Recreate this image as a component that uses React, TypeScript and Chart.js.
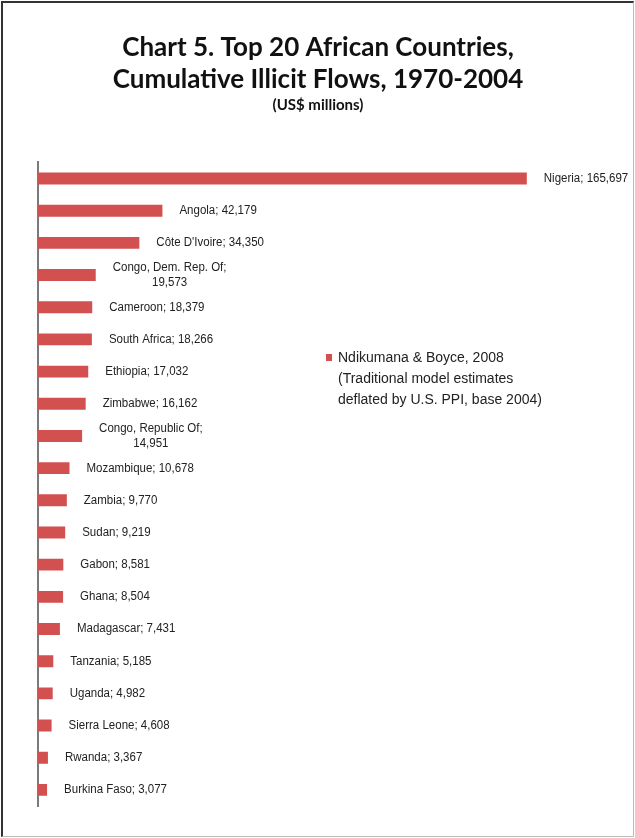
import React, { useEffect, useRef } from "react";
import { Chart, registerables } from "chart.js";

Chart.register(...registerables);

const countries: string[] = [
  "Nigeria",
  "Angola",
  "Côte D'Ivoire",
  "Congo, Dem. Rep. Of",
  "Cameroon",
  "South Africa",
  "Ethiopia",
  "Zimbabwe",
  "Congo, Republic Of",
  "Mozambique",
  "Zambia",
  "Sudan",
  "Gabon",
  "Ghana",
  "Madagascar",
  "Tanzania",
  "Uganda",
  "Sierra Leone",
  "Rwanda",
  "Burkina Faso",
];

const flows: number[] = [
  165697, 42179, 34350, 19573, 18379, 18266, 17032, 16162, 14951, 10678, 9770,
  9219, 8581, 8504, 7431, 5185, 4982, 4608, 3367, 3077,
];

// labels that wrap the value onto a second line
const wrappedLabels: string[] = ["Congo, Dem. Rep. Of", "Congo, Republic Of"];

const titleLines: string[] = [
  "Chart 5. Top 20 African Countries,",
  "Cumulative Illicit Flows, 1970-2004",
];
const subtitleText = "(US$ millions)";

const seriesName = "Ndikumana & Boyce, 2008";
const legendLines: string[] = [
  seriesName,
  "(Traditional model estimates",
  "deflated by U.S. PPI, base 2004)",
];

const xMax = 200000;

const BAR_COLOR = "#d35050";
const TEXT_COLOR = "#222";
const LABEL_FONT = "12.5px 'Liberation Sans', Arial, sans-serif";
const LABEL_SQUEEZE = 0.92;
const LEGEND_FONT = "14px 'Liberation Sans', Arial, sans-serif";

const fmt = (v: number) => v.toLocaleString("en-US");

const barLabelPlugin = {
  id: "barLabels",
  afterDatasetsDraw(chart: any) {
    const ctx = chart.ctx as CanvasRenderingContext2D;
    const meta = chart.getDatasetMeta(0);
    ctx.save();
    ctx.font = LABEL_FONT;
    ctx.fillStyle = TEXT_COLOR;
    ctx.textAlign = "center";
    ctx.textBaseline = "middle";
    meta.data.forEach((el: any, i: number) => {
      const name = countries[i];
      const val = fmt(flows[i]);
      const lines = wrappedLabels.includes(name)
        ? [name + ";", val]
        : [name + "; " + val];
      const maxW =
        Math.max(...lines.map((l) => ctx.measureText(l).width)) * LABEL_SQUEEZE;
      const cx = el.x + 17 + maxW / 2;
      const lh = 15;
      const y0 = el.y - ((lines.length - 1) * lh) / 2;
      lines.forEach((l, k) => {
        ctx.save();
        ctx.translate(cx, y0 + k * lh);
        ctx.scale(LABEL_SQUEEZE, 1);
        ctx.fillText(l, 0, 0);
        ctx.restore();
      });
    });
    ctx.restore();
  },
};

const legendPlugin = {
  id: "sideLegend",
  afterDraw(chart: any) {
    const ctx = chart.ctx as CanvasRenderingContext2D;
    const color = chart.data.datasets[0].backgroundColor;
    const x = 326;
    const y = 358;
    ctx.save();
    ctx.fillStyle = color;
    ctx.fillRect(x, y - 4, 6, 7);
    ctx.font = LEGEND_FONT;
    ctx.fillStyle = TEXT_COLOR;
    ctx.textAlign = "left";
    ctx.textBaseline = "middle";
    legendLines.forEach((l, k) => ctx.fillText(l, x + 12, y + k * 21));
    ctx.restore();
  },
};

export default function App() {
  const canvasRef = useRef<HTMLCanvasElement | null>(null);

  useEffect(() => {
    document.body.style.margin = "0";
    const canvas = canvasRef.current;
    if (!canvas) return;
    const chart = new Chart(canvas, {
      type: "bar",
      data: {
        labels: countries,
        datasets: [
          {
            label: seriesName,
            data: flows,
            backgroundColor: BAR_COLOR,
            borderWidth: 0,
            categoryPercentage: 1,
            barPercentage: 0.37,
          },
        ],
      },
      options: {
        indexAxis: "y",
        animation: false,
        responsive: false,
        devicePixelRatio: 1,
        layout: { padding: { top: 0, bottom: 32, left: 8, right: 7 } },
        scales: {
          x: {
            display: false,
            min: 0,
            max: xMax,
          },
          y: {
            display: true,
            grid: { display: false },
            ticks: { display: false },
            border: { display: true, color: "#7a7a7a", width: 2 },
            afterFit(scale: any) {
              scale.width = 30;
            },
          },
        },
        plugins: {
          legend: { display: false },
          tooltip: { enabled: false },
          title: {
            display: true,
            text: titleLines,
            color: "#111",
            font: { family: "Lato", size: 26, weight: "bold", lineHeight: 1.22 },
            padding: { top: 32, bottom: 1 },
          },
          subtitle: {
            display: true,
            text: subtitleText,
            color: "#111",
            font: { family: "Lato", size: 15, weight: "bold", lineHeight: 1.2 },
            padding: { top: 0, bottom: 48 },
          },
        },
      },
      plugins: [barLabelPlugin, legendPlugin],
    });
    return () => chart.destroy();
  }, []);

  return (
    <div style={{ position: "relative", width: 635, height: 838, background: "#fff" }}>
      <canvas ref={canvasRef} width={635} height={838} style={{ display: "block" }} />
      <div
        style={{
          position: "absolute",
          left: 1,
          top: 1,
          width: 633,
          height: 836,
          boxSizing: "border-box",
          borderLeft: "2px solid #333",
          borderTop: "2px solid #333",
          borderRight: "1px solid #bbb",
          borderBottom: "1px solid #bbb",
          pointerEvents: "none",
        }}
      />
    </div>
  );
}
